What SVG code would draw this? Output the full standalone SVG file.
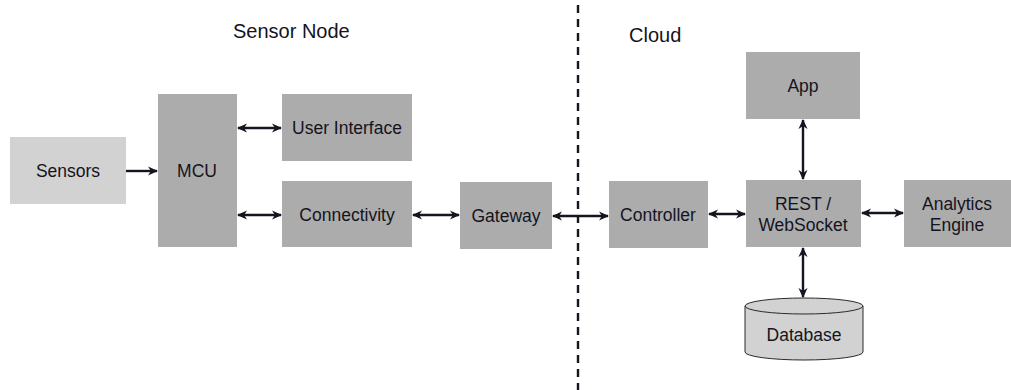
<svg xmlns="http://www.w3.org/2000/svg" width="1011" height="390" viewBox="0 0 1011 390">
  <style>
    .box { fill: #acacac; }
    .light { fill: #d2d2d2; }
    .lbl { font-family: "Liberation Sans", Arial, sans-serif; font-size: 17.5px; fill: #14141e; text-anchor: middle; }
    .head { font-family: "Liberation Sans", Arial, sans-serif; font-size: 20px; fill: #14141e; }
    .wire { stroke: #15151f; stroke-width: 2.4; fill: none; }
  </style>
  <defs>
    <marker id="tip" viewBox="0 0 10 10" refX="9" refY="5" markerWidth="4.2" markerHeight="4.2" orient="auto-start-reverse" markerUnits="strokeWidth">
      <path d="M0,0.5 L10,5 L0,9.5 L3,5 Z" fill="#15151f"/>
    </marker>
  </defs>

  <rect width="1011" height="390" fill="#ffffff"/>

  <!-- section headings and divider -->
  <text class="head" x="233" y="38">Sensor Node</text>
  <text class="head" x="629" y="42">Cloud</text>
  <line x1="578" y1="5" x2="578" y2="390" stroke="#15151f" stroke-width="2.4" stroke-dasharray="8,6"/>

  <g id="sensors">
    <rect class="light" x="10" y="137" width="116" height="67"/>
    <text class="lbl" x="68" y="177">Sensors</text>
  </g>
  <g id="mcu">
    <rect class="box" x="158" y="94" width="79" height="153"/>
    <text class="lbl" x="197" y="177">MCU</text>
  </g>
  <g id="user-interface">
    <rect class="box" x="282" y="94" width="130" height="67"/>
    <text class="lbl" x="347" y="134">User Interface</text>
  </g>
  <g id="connectivity">
    <rect class="box" x="282" y="181" width="130" height="66"/>
    <text class="lbl" x="347" y="221">Connectivity</text>
  </g>
  <g id="gateway">
    <rect class="box" x="460" y="182" width="92" height="67"/>
    <text class="lbl" x="506" y="222">Gateway</text>
  </g>
  <g id="controller">
    <rect class="box" x="609" y="181" width="99" height="67"/>
    <text class="lbl" x="658" y="221">Controller</text>
  </g>
  <g id="rest">
    <rect class="box" x="746" y="180" width="115" height="67"/>
    <text class="lbl" x="803" y="210">REST /</text>
    <text class="lbl" x="803" y="231">WebSocket</text>
  </g>
  <g id="app">
    <rect class="box" x="746" y="52" width="114" height="67"/>
    <text class="lbl" x="803" y="92">App</text>
  </g>
  <g id="analytics">
    <rect class="box" x="904" y="180" width="107" height="67"/>
    <text class="lbl" x="957" y="210">Analytics</text>
    <text class="lbl" x="957" y="231">Engine</text>
  </g>
  <g id="database">
    <path d="M745,306 L745,352 A59,8 0 0 0 863,352 L863,306 Z" fill="#d2d2d2" stroke="#2a2a2a" stroke-width="1"/>
    <ellipse cx="804" cy="306" rx="59" ry="8" fill="#d2d2d2" stroke="#2a2a2a" stroke-width="1"/>
    <text class="lbl" x="804" y="341">Database</text>
  </g>

  <g id="connectors">
    <line class="wire" x1="126" y1="171" x2="157" y2="171" marker-end="url(#tip)"/>
    <line class="wire" x1="238" y1="128" x2="281" y2="128" marker-start="url(#tip)" marker-end="url(#tip)"/>
    <line class="wire" x1="238" y1="215" x2="281" y2="215" marker-start="url(#tip)" marker-end="url(#tip)"/>
    <line class="wire" x1="413" y1="215" x2="459" y2="215" marker-start="url(#tip)" marker-end="url(#tip)"/>
    <line class="wire" x1="553" y1="216" x2="608" y2="216" marker-start="url(#tip)" marker-end="url(#tip)"/>
    <line class="wire" x1="709" y1="214" x2="745" y2="214" marker-start="url(#tip)" marker-end="url(#tip)"/>
    <line class="wire" x1="862" y1="213" x2="903" y2="213" marker-start="url(#tip)" marker-end="url(#tip)"/>
    <line class="wire" x1="803" y1="120" x2="803" y2="179" marker-start="url(#tip)" marker-end="url(#tip)"/>
    <line class="wire" x1="803" y1="248" x2="803" y2="297" marker-start="url(#tip)" marker-end="url(#tip)"/>
  </g>
</svg>
